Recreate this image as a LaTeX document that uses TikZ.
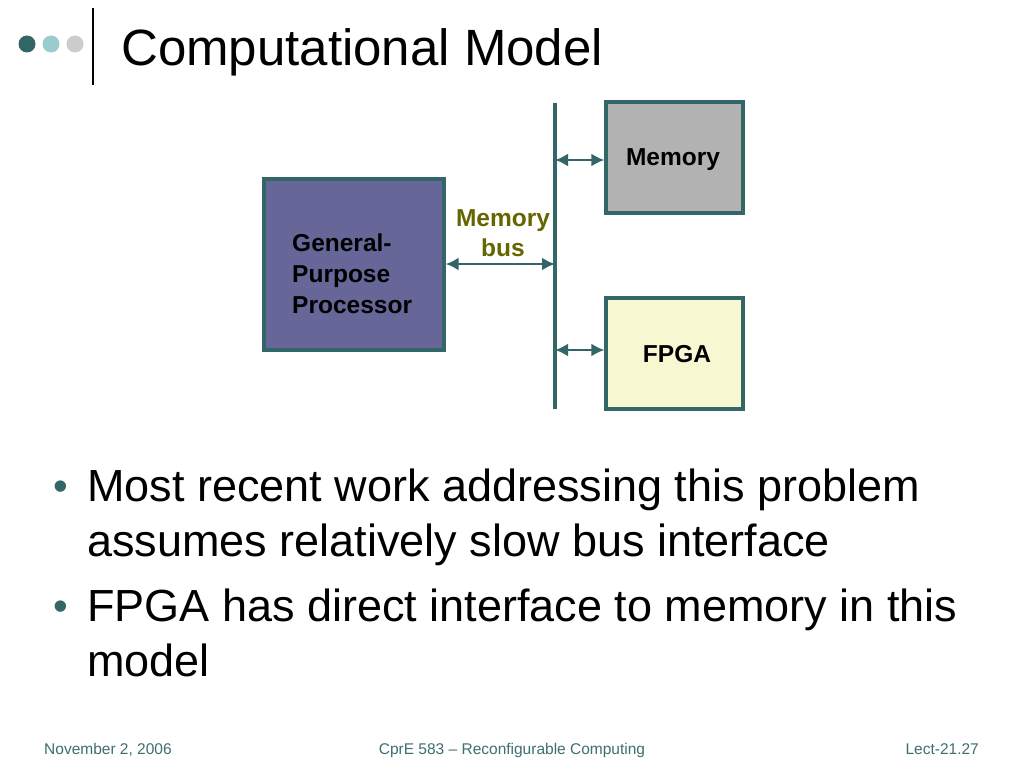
\documentclass[tikz,border=0pt]{standalone}
\usepackage{fontspec}
\setmainfont{Liberation Sans}
\usetikzlibrary{arrows.meta}
\definecolor{teal1}{HTML}{336666}
\definecolor{teal2}{HTML}{99CCCC}
\definecolor{gray1}{HTML}{CCCCCC}
\definecolor{gppfill}{HTML}{666699}
\definecolor{memfill}{HTML}{B2B2B2}
\definecolor{fpgafill}{HTML}{F7F7D2}
\definecolor{olive1}{HTML}{666600}
\definecolor{foot}{HTML}{3F6F6F}
\begin{document}
\begin{tikzpicture}[x=1pt,y=-1pt,
  blockbox/.style={draw=teal1,line width=3.1pt,minimum width=#1,inner sep=0pt},
  link/.style={draw=teal1,line width=2.8pt,{Latex[length=13pt,width=13pt]}-{Latex[length=13pt,width=13pt]}},
  lbl/.style={font=\fontsize{24.5}{30}\selectfont\bfseries,text=black},
  bullet/.style={anchor=base west,font=\fontsize{45}{55}\selectfont,inner sep=0pt},
  dotb/.style={inner sep=0pt,text=teal1,font=\fontsize{42}{42}\selectfont},
  foottxt/.style={inner sep=0pt,text=foot,font=\fontsize{15.5}{18}\selectfont}]
\useasboundingbox (0,0) rectangle (1024,768);
\fill[white] (0,0) rectangle (1024,768);
% header
\fill[teal1] (27,44) circle (8.5);
\fill[teal2] (51,44) circle (8.5);
\fill[gray1] (75,44) circle (8.5);
\draw[black,line width=2.8pt] (93,8) -- (93,85);
\node[anchor=base west,inner sep=0pt,font=\fontsize{51}{60}\selectfont] (title) at (121,66) {Computational Model};
% boxes
\node[blockbox=180pt,minimum height=171pt,fill=gppfill] (gpp) at (354,264.5) {};
\node[lbl,align=left,anchor=west,inner sep=0pt,font=\fontsize{24.5}{31}\selectfont\bfseries] (gpptxt) at (292,274) {General-\\Purpose\\Processor};
\node[blockbox=137pt,minimum height=111pt,fill=memfill] (mem) at (674.5,157.5) {};
\node[lbl] (memtxt) at (673,160) {Memory};
\node[blockbox=137pt,minimum height=111pt,fill=fpgafill] (fpga) at (674.5,353.5) {};
\node[lbl] (fpgatxt) at (677,354) {FPGA};
% bus
\coordinate (bustop) at (555,103);
\coordinate (busbot) at (555,409);
\draw[teal1,line width=3.2pt] (bustop) -- (busbot);
\coordinate (b1) at (555,264);
\coordinate (b2) at (555,160);
\coordinate (b3) at (555,350);
\draw[link] (gpp.east |- b1) -- (b1);
\draw[link] (b2) -- (mem.west |- b2);
\draw[link] (b3) -- (fpga.west |- b3);
\node[lbl,text=olive1,align=center,inner sep=0pt,font=\fontsize{24.5}{30}\selectfont\bfseries] (bustxt) at (503,233) {Memory\\bus};
% bullets
\node[dotb] (d1) at (61,490.5) {•};
\node[bullet] (t1a) at (87,501) {Most recent work addressing this problem};
\node[bullet] (t1b) at (87,556) {assumes relatively slow bus interface};
\node[dotb] (d2) at (61,610.5) {•};
\node[bullet] (t2a) at (87,621) {FPGA has direct interface to memory in this};
\node[bullet] (t2b) at (87,676) {model};
% footer
\node[foottxt,anchor=base west] (f1) at (44,754) {November 2, 2006};
\node[foottxt,anchor=base] (f2) at (512,754) {CprE 583 – Reconfigurable Computing};
\node[foottxt,anchor=base east] (f3) at (979,754) {Lect-21.27};
\end{tikzpicture}
\end{document}
